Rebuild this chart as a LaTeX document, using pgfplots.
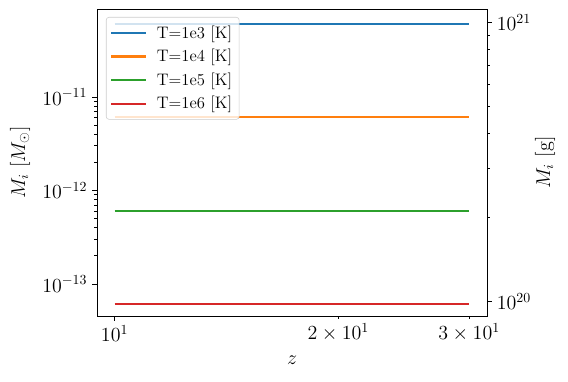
\documentclass[border=0pt]{standalone}
\usepackage{fontspec}
\usepackage{pgfplots}
\pgfplotsset{compat=1.18}
\newlength\pxu
\setlength\pxu{0.72pt}
\definecolor{tabblue}{HTML}{1F77B4}
\definecolor{taborange}{HTML}{FF7F0E}
\definecolor{tabgreen}{HTML}{2CA02C}
\definecolor{tabred}{HTML}{D62728}
\begin{document}
\begin{tikzpicture}
\pgfplotsset{
  every axis/.append style={
    scale only axis,
    width=390\pxu, height=307\pxu,
    at={(0,0)}, anchor=south west,
    tick label style={font=\fontsize{14.5}{17}\selectfont},
    tick align=outside,
    major tick length=3.5pt,
    minor tick length=2pt,
    every tick/.style={black, line width=0.6pt},
    axis line style={line width=0.6pt},
  },
}
\path[use as bounding box] (-97\pxu,-66\pxu) rectangle (471\pxu,316\pxu);

%% main axis, solar masses
\begin{axis}[
  xmode=log, ymode=log,
  xmin=9.47, xmax=31.7,
  ymin=4.55e-14, ymax=8.73e-11,
  xtick={10}, xticklabels={$10^1$},
  minor xtick={},
  extra x ticks={20,30},
  extra x tick labels={$2\times10^1$,$3\times10^1$},
  extra x tick style={major tick length=2pt},
  ytick={1e-13,1e-12,1e-11},
  xtick pos=bottom, ytick pos=left,
  xlabel={$z$}, ylabel={$M_i$ [$M_\odot$]},
  every axis x label/.style={at={(axis description cs:0.5,0)}, yshift=-44\pxu,
    anchor=center, font=\fontsize{14.5}{17}\selectfont},
  every axis y label/.style={at={(axis description cs:0,0.5)}, xshift=-77\pxu,
    anchor=center, rotate=90, font=\fontsize{14.5}{17}\selectfont},
  legend style={at={(0.023,0.974)}, anchor=north west,
    draw=black!20, rounded corners=2pt, fill=white, fill opacity=0.8,
    text opacity=1, font=\fontsize{12}{14}\selectfont,
    row sep=2.5pt, inner xsep=3pt, inner ysep=4pt},
  legend cell align=left,
  legend image code/.code={\draw[#1] (0pt,0pt) -- (25pt,0pt);},
]
\addplot[tabblue, line width=1.5pt] coordinates {(10,6.1e-11) (30,6.1e-11)};
\addlegendentry{\hspace{5pt}T=1e3 [K]}
\addplot[taborange, line width=1.5pt] coordinates {(10,6.1e-12) (30,6.1e-12)};
\addlegendentry{\hspace{5pt}T=1e4 [K]}
\addplot[tabgreen, line width=1.5pt] coordinates {(10,6.1e-13) (30,6.1e-13)};
\addlegendentry{\hspace{5pt}T=1e5 [K]}
\addplot[tabred, line width=1.5pt] coordinates {(10,6.1e-14) (30,6.1e-14)};
\addlegendentry{\hspace{5pt}T=1e6 [K]}
\end{axis}

%% twin axis, grams
\begin{axis}[
  xmode=log, ymode=log,
  xmin=9.47, xmax=31.7,
  ymin=8.9e19, ymax=1.12e21,
  hide x axis,
  axis y line*=right,
  ytick={1e20,1e21},
  ytick pos=right, yticklabel pos=right,
  ylabel={$M_i$ [g]},
  every axis y label/.style={at={(axis description cs:1,0.5)}, xshift=58\pxu,
    anchor=center, rotate=90, font=\fontsize{14.5}{17}\selectfont},
]
\addplot[draw=none] coordinates {(10,1e20) (30,1e21)};
\end{axis}
\end{tikzpicture}
\end{document}
